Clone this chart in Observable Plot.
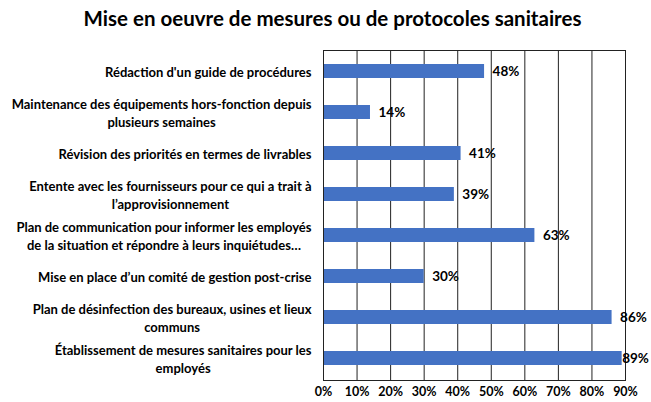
<!DOCTYPE html>
<html>
<head>
<meta charset="utf-8">
<script src="https://cdn.jsdelivr.net/npm/d3@7"></script>
<script src="https://cdn.jsdelivr.net/npm/@observablehq/plot@0.6"></script>
<style>
  html, body { margin: 0; padding: 0; background: #fff; }
  #title { height: 38px; line-height: 36px; font-family: Lato, sans-serif; font-weight: bold; font-size: 20.5px; text-align: center; padding-left: 14px; color: #000; width: 637px; }
  #chart svg { display: block; }
</style>
</head>
<body>
<div id="title">Mise en oeuvre de mesures ou de protocoles sanitaires</div>
<div id="chart"></div>
<script>
const categories = [
  "Rédaction d'un guide de procédures",
  "Maintenance des équipements hors-fonction depuis\nplusieurs semaines",
  "Révision des priorités en termes de livrables",
  "Entente avec les fournisseurs pour ce qui a trait à\nl’approvisionnement",
  "Plan de communication pour informer les employés\nde la situation et répondre à leurs inquiétudes…",
  "Mise en place d’un comité de gestion post-crise",
  "Plan de désinfection des bureaux, usines et lieux\ncommuns",
  "Établissement de mesures sanitaires pour les\nemployés"
];
const values = [48, 14, 41, 39, 63, 30, 86, 89];
const xTicks = [0, 10, 20, 30, 40, 50, 60, 70, 80, 90];

const data = categories.map((c, i) => ({category: c, value: values[i]}));

const chart = Plot.plot({
  width: 651,
  height: 364,
  marginTop: 12,
  marginBottom: 22,
  marginLeft: 323,
  marginRight: 26,
  style: {fontFamily: "Lato, sans-serif", fontWeight: "bold", fontSize: "13px", color: "#000", background: "#fff"},
  x: {domain: [0, 90]},
  y: {domain: categories, paddingInner: 0.65, paddingOuter: 0.325},
  marks: [
    Plot.gridX(xTicks, {stroke: "#222", strokeOpacity: 1}),
    Plot.barX(data, {x: "value", y: "category", fill: "#4472C4"}),
    Plot.frame({stroke: "#222"}),
    Plot.text(data.filter(d => d.value < 88), {x: "value", y: "category", text: d => d.value + "%", textAnchor: "start", dx: 8, fontSize: 13.5, fill: "#000"}),
    Plot.text(data.filter(d => d.value >= 88), {x: "value", y: "category", text: d => d.value + "%", textAnchor: "start", dx: 0, fontSize: 13.5, fill: "#000"}),
    Plot.axisX({ticks: xTicks, tickFormat: d => d + "%", tickSize: 0, tickPadding: 7, label: null, fontSize: 12.5}),
    Plot.axisY({tickSize: 0, tickPadding: 12, label: null, lineHeight: 1.35, lineWidth: Infinity, fontSize: 13})
  ]
});
document.getElementById("chart").appendChild(chart);

// center wrapped lines within right-aligned label blocks
d3.select(chart).selectAll("g[aria-label='y-axis tick label'] text").each(function() {
  const tspans = this.querySelectorAll("tspan");
  if (tspans.length < 2) return;
  let w = 0;
  tspans.forEach(t => { w = Math.max(w, t.getComputedTextLength()); });
  this.setAttribute("text-anchor", "middle");
  tspans.forEach(t => {
    const x0 = +(t.getAttribute("x") || 0);
    t.setAttribute("x", x0 - w / 2);
  });
});
</script>
</body>
</html>
